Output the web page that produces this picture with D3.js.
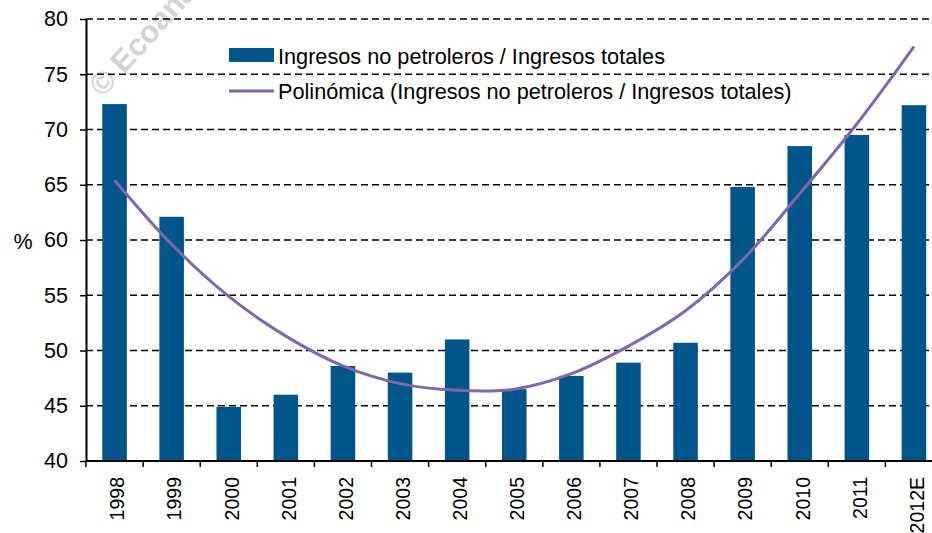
<!DOCTYPE html>
<html>
<head>
<meta charset="utf-8">
<script src="https://cdn.jsdelivr.net/npm/d3@7/dist/d3.min.js"></script>
<style>
  html, body { margin: 0; padding: 0; background: #fff; }
  svg { display: block; font-family: "Liberation Sans", Arial, sans-serif; }
</style>
</head>
<body>
<svg id="chart" width="932" height="533"></svg>
<script>
// ---- Data ----
const categories = ["1998","1999","2000","2001","2002","2003","2004","2005","2006","2007","2008","2009","2010","2011","2012E"];
const ratioValues = [72.3, 62.1, 44.9, 46.0, 48.6, 48.0, 51.0, 46.5, 47.7, 48.9, 50.7, 64.8, 68.5, 69.5, 72.2];
const trendValues = [65.4, 59.6, 54.9, 51.3, 48.6, 47.0, 46.4, 46.5, 47.9, 50.4, 53.6, 58.2, 64.2, 70.5, 77.5];
const yTicks = [40, 45, 50, 55, 60, 65, 70, 75, 80];
const seriesNames = ["Ingresos no petroleros / Ingresos totales", "Polinómica (Ingresos no petroleros / Ingresos totales)"];
const yLabel = "%";
const watermark = "© Ecoanalítica";

// ---- Layout ----
const svg = d3.select("#chart");
const W = 932, H = 533;
const mLeft = 86, mTop = 19, mBottom = 461;
const step = 57.1;
const mRight = mLeft + step * categories.length;
const barColor = "#02558A";
const lineColor = "#7F67AA";

const x = d3.scaleBand().domain(categories).range([mLeft, mRight]).paddingInner(0.57).paddingOuter(0.285);
const y = d3.scaleLinear().domain([40, 80]).range([mBottom, mTop]);

// watermark
svg.append("text")
  .attr("transform", "translate(103,98) rotate(-48)")
  .attr("font-size", 31).attr("font-weight", "bold")
  .attr("fill", "#d4d4d4")
  .text(watermark);

// gridlines
svg.append("g").selectAll("line").data(yTicks.filter(d => d > 40)).join("line")
  .attr("x1", mLeft).attr("x2", W)
  .attr("y1", d => y(d)).attr("y2", d => y(d))
  .attr("stroke", "#000").attr("stroke-width", 1.3)
  .attr("stroke-dasharray", "7,4");

// bars
svg.append("g").selectAll("rect").data(categories).join("rect")
  .attr("x", d => x(d)).attr("width", x.bandwidth())
  .attr("y", (d, i) => y(ratioValues[i]))
  .attr("height", (d, i) => y(40) - y(ratioValues[i]))
  .attr("fill", barColor);

// trend line
const line = d3.line()
  .x((d, i) => x(categories[i]) + x.bandwidth() / 2)
  .y(d => y(d))
  .curve(d3.curveCatmullRom.alpha(0.5));
svg.append("path").datum(trendValues)
  .attr("d", line).attr("fill", "none")
  .attr("stroke", lineColor).attr("stroke-width", 3);

// y axis
const yAxis = svg.append("g").attr("transform", `translate(${mLeft},0)`)
  .call(d3.axisLeft(y).tickValues(yTicks).tickSize(6).tickPadding(12).tickSizeOuter(0));
yAxis.select(".domain").attr("stroke", "#000").attr("stroke-width", 2);
yAxis.selectAll(".tick line").attr("stroke", "#000").attr("stroke-width", 1.5);
yAxis.selectAll(".tick text").attr("font-size", 21.5).attr("fill", "#000")
  .attr("font-family", "Liberation Sans, Arial, sans-serif");

// x axis line
svg.append("line").attr("x1", mLeft).attr("x2", W).attr("y1", mBottom).attr("y2", mBottom)
  .attr("stroke", "#000").attr("stroke-width", 2);
// x tick marks at band boundaries
const bounds = d3.range(categories.length + 1).map(i => mLeft + i * x.step());
svg.append("g").selectAll("line").data(bounds).join("line")
  .attr("x1", d => d).attr("x2", d => d).attr("y1", mBottom).attr("y2", mBottom + 6)
  .attr("stroke", "#000").attr("stroke-width", 1.5);
// x labels
svg.append("g").selectAll("text").data(categories).join("text")
  .attr("transform", d => `translate(${x(d) + x.bandwidth() / 2 + 3},${mBottom + 16}) rotate(-90)`)
  .attr("text-anchor", "end").attr("dy", "0.35em")
  .attr("font-size", 19.5).attr("fill", "#000")
  .text(d => d);

// y label
svg.append("text").attr("x", 23).attr("y", 241).attr("dy", "0.35em")
  .attr("text-anchor", "middle").attr("font-size", 21.5).attr("fill", "#000")
  .text(yLabel);

// legend
const lg = svg.append("g");
lg.append("rect").attr("x", 229).attr("y", 48).attr("width", 45).attr("height", 14).attr("fill", barColor);
lg.append("text").attr("x", 278).attr("y", 56).attr("dy", "0.35em").attr("font-size", 21.7).attr("fill", "#000").text(seriesNames[0]);
lg.append("line").attr("x1", 229).attr("x2", 274).attr("y1", 91).attr("y2", 91).attr("stroke", lineColor).attr("stroke-width", 3);
lg.append("text").attr("x", 278).attr("y", 91).attr("dy", "0.35em").attr("font-size", 21.7).attr("fill", "#000").text(seriesNames[1]);
</script>
</body>
</html>
